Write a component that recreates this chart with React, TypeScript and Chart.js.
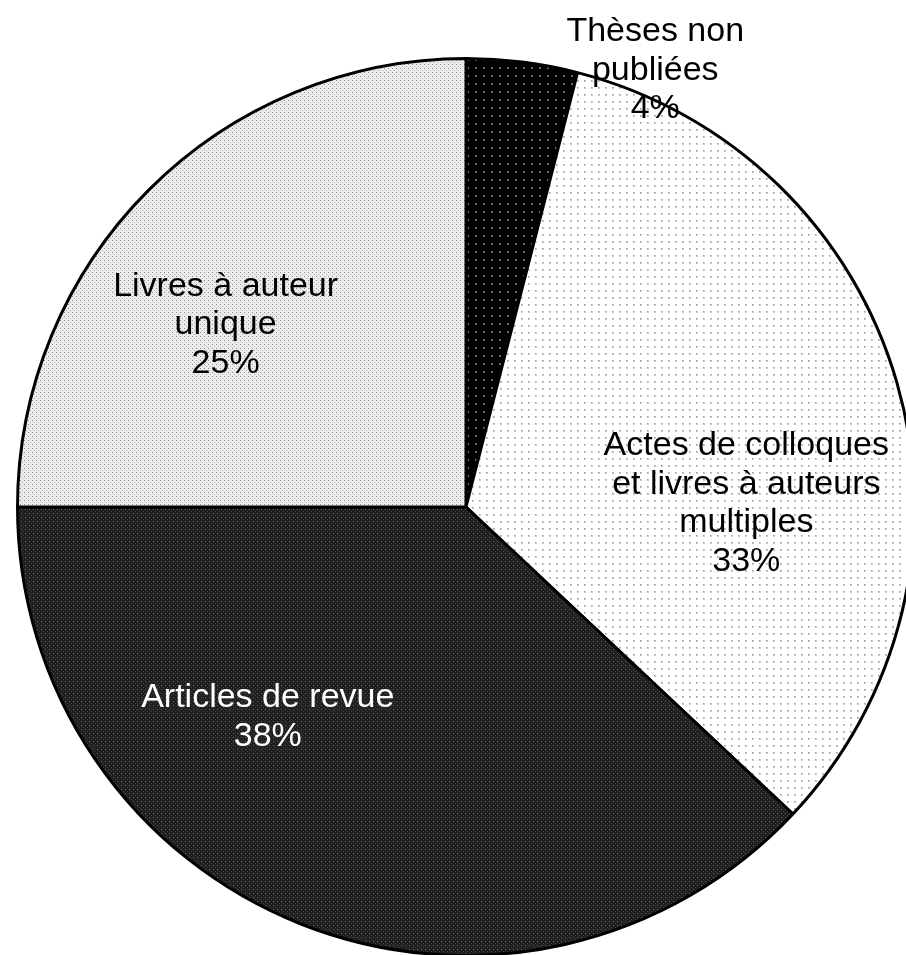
import React, { useEffect, useRef } from "react";
import { Chart, registerables } from "chart.js";

Chart.register(...registerables);

const categories = ["Thèses non publiées", "Actes de colloques et livres à auteurs multiples", "Articles de revue", "Livres à auteur unique"];
const labelLines = [["Thèses non", "publiées"], ["Actes de colloques", "et livres à auteurs", "multiples"], ["Articles de revue"], ["Livres à auteur", "unique"]];
const values = [4, 33, 38, 25];
const percentLabels = ["4%", "33%", "38%", "25%"];

// label anchor offsets, in fractions of the radius from the pie centre
const labelOffsets = [[0.422, -0.973], [0.625, -0.008], [-0.442, 0.468], [-0.536, -0.406]];
const labelColors = ["#000", "#000", "#fff", "#000"];

function makePattern(kind: number): CanvasPattern | string {
  const c = document.createElement("canvas");
  let s = 8;
  if (kind === 0) s = 8;
  if (kind === 1) s = 7;
  if (kind === 2) s = 4;
  if (kind === 3) s = 4;
  c.width = s;
  c.height = s;
  const g = c.getContext("2d")!;
  if (kind === 0) {
    g.fillStyle = "#000";
    g.fillRect(0, 0, s, s);
    g.fillStyle = "#6a6a6a";
    g.fillRect(3, 3, 2, 2);
  } else if (kind === 1) {
    g.fillStyle = "#fff";
    g.fillRect(0, 0, s, s);
    g.fillStyle = "#c6c6c6";
    g.fillRect(3, 3, 2, 2);
    g.fillStyle = "#9a9a9a";
    g.fillRect(3, 3, 1, 1);
  } else if (kind === 2) {
    g.fillStyle = "#202020";
    g.fillRect(0, 0, s, s);
    g.fillStyle = "#606060";
    g.fillRect(1, 1, 1, 1);
    g.fillStyle = "#3c3c3c";
    g.fillRect(3, 3, 1, 1);
  } else {
    g.fillStyle = "#ececec";
    g.fillRect(0, 0, s, s);
    g.fillStyle = "#8c8c8c";
    g.fillRect(0, 0, 1, 1);
    g.fillStyle = "#b4b4b4";
    g.fillRect(2, 2, 1, 1);
  }
  const p = g.createPattern(c, "repeat");
  return p || "#ccc";
}

const labelPlugin = {
  id: "sliceLabels",
  afterDatasetsDraw(chart: any) {
    const meta = chart.getDatasetMeta(0);
    const arc = meta.data[0];
    if (!arc) return;
    const { x, y, outerRadius } = arc.getProps(["x", "y", "outerRadius"], true);
    const ctx = chart.ctx;
    ctx.save();
    ctx.font = "34px 'Liberation Sans', Arial, sans-serif";
    ctx.textAlign = "center";
    ctx.textBaseline = "middle";
    const lh = 38.5;
    values.forEach((_, i) => {
      const lines = [...labelLines[i], percentLabels[i]];
      const cx = x + labelOffsets[i][0] * outerRadius;
      const cy = y + labelOffsets[i][1] * outerRadius;
      ctx.fillStyle = labelColors[i];
      const top = cy - ((lines.length - 1) * lh) / 2;
      lines.forEach((t, k) => ctx.fillText(t, cx, top + k * lh));
    });
    ctx.restore();
  },
};

export default function App() {
  const ref = useRef<HTMLCanvasElement>(null);
  useEffect(() => {
    if (!ref.current) return;
    const chart = new Chart(ref.current, {
      type: "pie",
      data: {
        labels: categories,
        datasets: [
          {
            data: values,
            backgroundColor: [makePattern(0), makePattern(1), makePattern(2), makePattern(3)] as any,
            borderColor: "#000",
            borderWidth: 3,
          },
        ],
      },
      options: {
        animation: false,
        responsive: false,
        devicePixelRatio: 1,
        layout: { padding: { left: 16, top: 57, right: 16, bottom: 4 } },
        plugins: { legend: { display: false }, tooltip: { enabled: false } },
      },
      plugins: [labelPlugin],
    });
    return () => chart.destroy();
  }, []);
  return (
    <div style={{ position: "fixed", left: 0, top: 0, width: 906, height: 955, overflow: "hidden", background: "#fff" }}>
      <canvas ref={ref} width={932} height={961} style={{ position: "absolute", left: 0, top: 0, width: 932, height: 961 }} />
    </div>
  );
}
